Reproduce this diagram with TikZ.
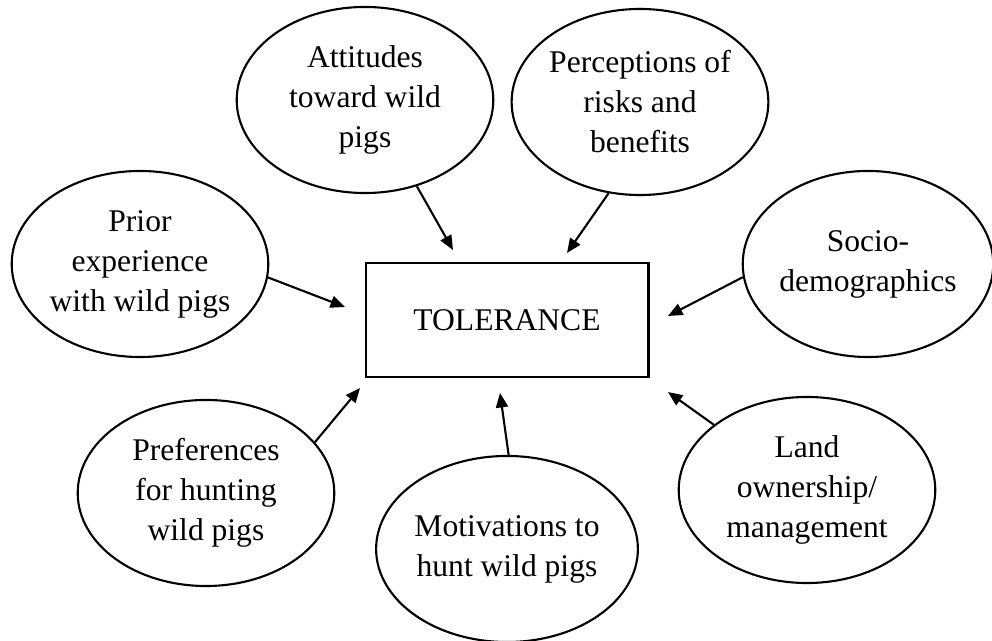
\documentclass[tikz,border=0pt]{standalone}
\usepackage{fontspec}
\setmainfont{Liberation Serif}
\usetikzlibrary{shapes.geometric,arrows.meta}
\begin{document}
\begin{tikzpicture}[x=0.38pt,y=-0.38pt,font=\fontsize{12}{15.2}\selectfont,
    factor/.style={ellipse,draw,line width=0.8pt,inner sep=0pt,align=center,
      minimum width=97.5pt,minimum height=70.7pt},
    infl/.style={line width=0.8pt,-{Triangle[length=5.5pt,width=4.6pt]}}]
    \useasboundingbox (0,0) rectangle (992,641);
    \node [draw,line width=0.8pt,minimum width=107.5pt,minimum height=43.3pt](tol) at (507,320) {TOLERANCE};
    \node [factor](att) at (365,100) {Attitudes\\toward wild\\pigs};
    \node [factor](perc) at (640,102) {Perceptions of\\risks and\\benefits};
    \node [factor](prior) at (140,264) {Prior\\experience\\with wild pigs};
    \node [factor,minimum width=95pt](socio) at (868,264) {Socio-\\demographics};
    \node [factor](pref) at (206,493) {Preferences\\for hunting\\wild pigs};
    \node [factor](motiv) at (507,549) {Motivations to\\hunt wild pigs};
    \node [factor](land) at (807,490) {Land\\ownership/\\management};
    % arrow tips stop short of the box
    \coordinate (att-tip) at (453,250);
    \coordinate (perc-tip) at (567,253);
    \coordinate (prior-tip) at (345,307);
    \coordinate (socio-tip) at (668,316);
    \coordinate (pref-tip) at (360,388);
    \coordinate (motiv-tip) at (500,393);
    \coordinate (land-tip) at (668,392);
    \draw[infl] (att.-59) -- (att-tip);
    \draw[infl] (perc.-109) -- (perc-tip);
    \draw[infl] (prior.-6) -- (prior-tip);
    \draw[infl] (socio.186) -- (socio-tip);
    \draw[infl] (pref.25) -- (pref-tip);
    \draw[infl] (motiv.89) -- (motiv-tip);
    \draw[infl] (land.145) -- (land-tip);
  \end{tikzpicture}
\end{document}
